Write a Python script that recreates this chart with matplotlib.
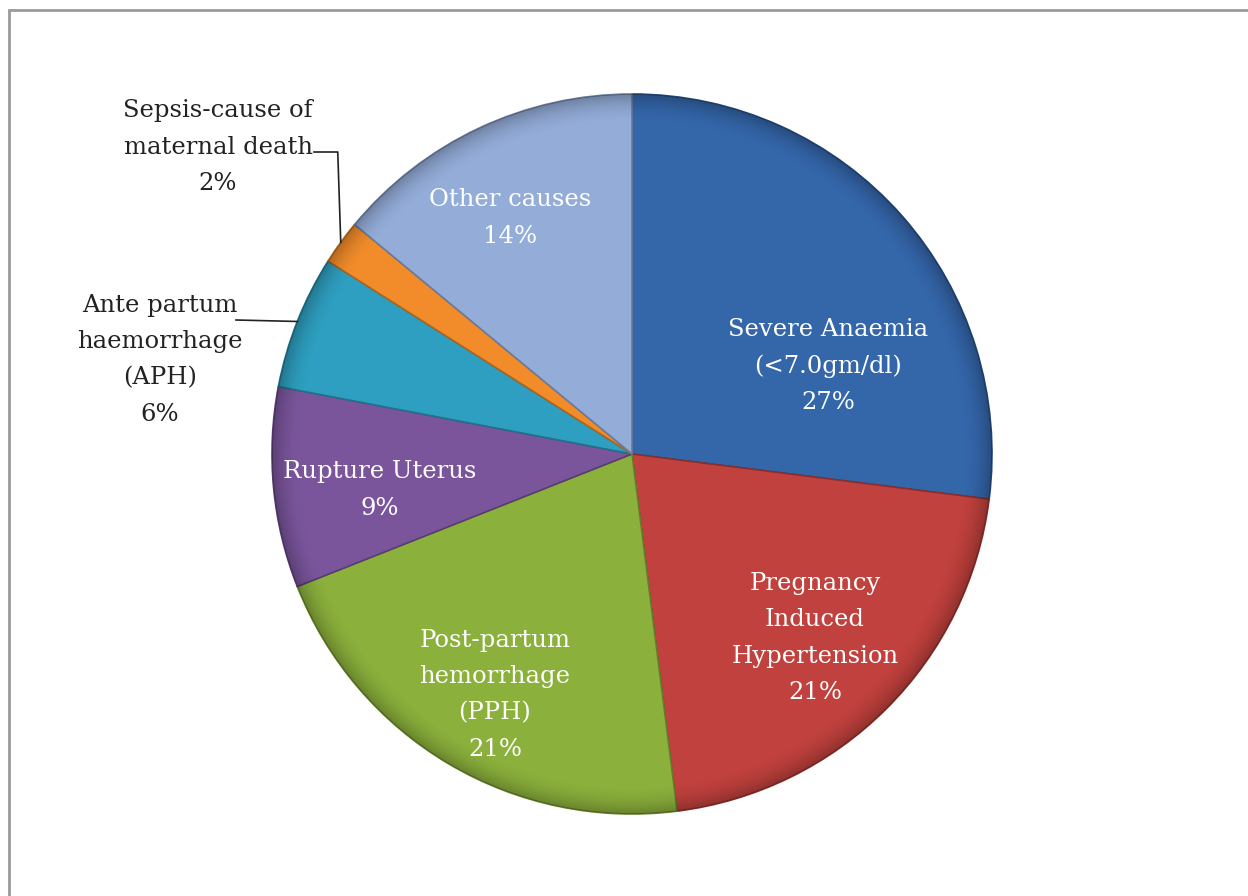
import numpy as np
import matplotlib.pyplot as plt
from matplotlib.colors import to_rgb
from matplotlib.patches import Rectangle, Circle

# Causes of maternal death (%)
causes = ["Severe Anaemia\n(<7.0gm/dl)", "Pregnancy\nInduced\nHypertension",
          "Post-partum\nhemorrhage\n(PPH)", "Rupture Uterus",
          "Ante partum\nhaemorrhage\n(APH)", "Sepsis-cause of\nmaternal death",
          "Other causes"]
shares = [27, 21, 21, 9, 6, 2, 14]
colors = ["#3466aa", "#c0413d", "#8bb03c", "#7a559c", "#2e9fc0", "#f28c2a", "#93acd8"]

W, H = 1248, 896
cx, cy, R = 632, 454, 360

# label block centres in pixel coords (y down)
label_pos = [(828, 366), (815, 638), (495, 695), (380, 490), (160, 360), (218, 147), (510, 218)]
outside = [False, False, False, False, True, True, False]


def px(x, y):
    return x, H - y


fig = plt.figure(figsize=(W / 100, H / 100), dpi=100)
ax = fig.add_axes([0, 0, 1, 1])

# outer frame
fig.patches.append(Rectangle((9 / W, -0.05), 1.2, (H - 10) / H + 0.05, transform=fig.transFigure,
                             fill=False, edgecolor="#9a9a9a", linewidth=2))

wedges, _ = ax.pie(shares, colors=colors, startangle=90, counterclock=False,
                   center=px(cx, cy), radius=R, frame=True,
                   wedgeprops=dict(linewidth=1.2))
for w, c in zip(wedges, colors):
    w.set_edgecolor(tuple(np.array(to_rgb(c)) * 0.72))
ax.set_xlim(0, W)
ax.set_ylim(0, H)
ax.set_aspect("equal")
ax.axis("off")

# darker rim shading
n = 600
xx, yy = np.meshgrid(np.linspace(cx - R, cx + R, n), np.linspace(cy - R, cy + R, n))
rr = np.hypot(xx - cx, yy - cy) / R
shade = np.zeros((n, n, 4))
shade[..., 3] = np.clip((rr - 0.92) / 0.08, 0, 1) ** 2 * 0.25
im = ax.imshow(shade, extent=(cx - R, cx + R, H - (cy + R), H - (cy - R)), zorder=3)
im.set_clip_path(Circle(px(cx, cy), R, transform=ax.transData))

font = "DejaVu Serif"
for name, val, (lx, ly), out in zip(causes, shares, label_pos, outside):
    ax.text(*px(lx, ly), f"{name}\n{val}%", ha="center", va="center",
            fontsize=17.5, family=font, linespacing=1.73,
            color="#222222" if out else "white", zorder=5)

# leader lines for the outside labels
ang = 90 - 360 * (np.cumsum(shares) - np.array(shares) / 2) / sum(shares)
sx = cx + R * np.cos(np.radians(ang[5]))
sy = cy - R * np.sin(np.radians(ang[5]))
ax.plot([314, sx - 3, sx], [H - 152, H - 152, H - sy], color="#222222", lw=1.2, zorder=5)
ax_ = cx + R * np.cos(np.radians(ang[4]))
ay_ = cy - R * np.sin(np.radians(ang[4]))
ax.plot([236, ax_], [H - 320, H - ay_], color="#222222", lw=1.2, zorder=5)

fig.savefig("out.png", dpi=100)
